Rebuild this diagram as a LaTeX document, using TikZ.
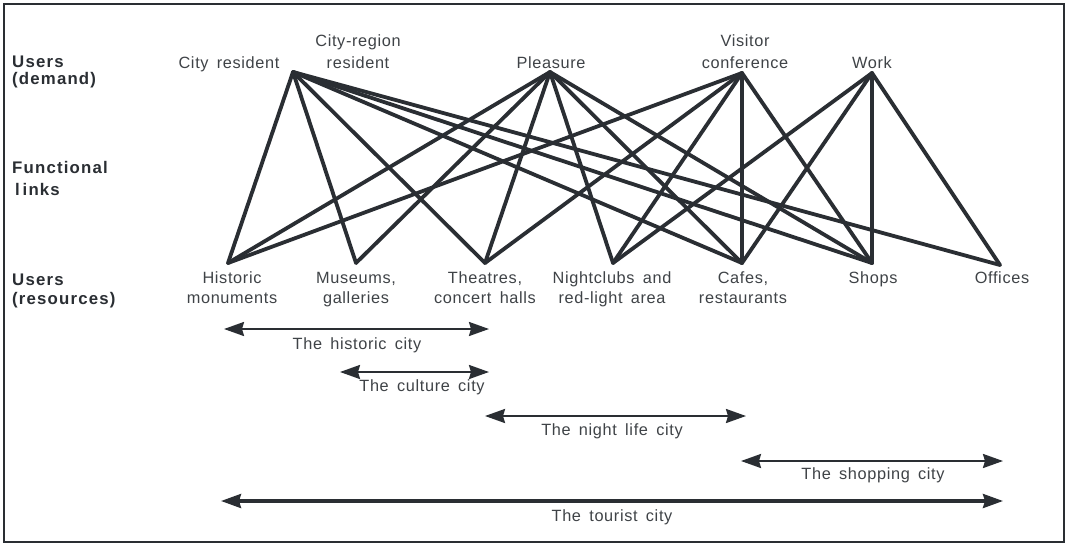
\documentclass[tikz,border=0pt]{standalone}
\usepackage{fontspec}
\setmainfont{Liberation Sans}[LetterSpace=4,WordSpace=1.6]
\newfontfamily\lblfont{Liberation Sans}[LetterSpace=7,WordSpace=1.4]
\usetikzlibrary{arrows.meta}
\definecolor{ink}{HTML}{2A2E33}
\begin{document}
\begin{tikzpicture}[x=1pt,y=-1pt,
  link/.style={draw=ink,line width=3.8pt,line cap=round,line join=round},
  txt/.style={anchor=base,inner sep=0pt,font=\fontsize{16.3}{19}\selectfont,text=ink!90},
  side/.style={anchor=base west,inner sep=0pt,font=\lblfont\bfseries\fontsize{16.8}{19}\selectfont,text=ink},
  cityrange/.style={draw=ink,line width=2.2pt,{Stealth[length=20pt,width=14pt,inset=2pt]}-{Stealth[length=20pt,width=14pt,inset=2pt]}},
  bigcityrange/.style={cityrange,line width=3.2pt},
]
\useasboundingbox (0,0) rectangle (1070,546);
\fill[white] (0,0) rectangle (1070,546);
\draw[ink,line width=2.8pt] (4,4) rectangle (1064,542);

% side labels
\node[side] (u1) at (12,67) {Users};
\node[side] (u2) at (12,84) {(demand)};
\node[side] (f1) at (12,173) {Functional};
\node[side] (f2) at (15,195) {l\,inks};
\node[side] (r1) at (12,285) {Users};
\node[side] (r2) at (12,304) {(resources)};

% demand labels
\node[txt] (tcr) at (229,68) {City resident};
\node[txt] (tcra) at (358,46) {City-region};
\node[txt] (tcrb) at (358,68) {resident};
\node[txt] (tpl) at (551,68) {Pleasure};
\node[txt] (tvca) at (745,46) {Visitor};
\node[txt] (tvcb) at (745,68) {conference};
\node[txt] (twk) at (872,68) {Work};

% resource labels
\node[txt] (thma) at (232,283) {Historic};
\node[txt] (thmb) at (232,303) {monuments};
\node[txt] (tmua) at (356,283) {Museums,};
\node[txt] (tmub) at (356,303) {galleries};
\node[txt] (ttha) at (485,283) {Theatres,};
\node[txt] (tthb) at (485,303) {concert halls};
\node[txt] (tnca) at (612,283) {Nightclubs and};
\node[txt] (tncb) at (612,303) {red-light area};
\node[txt] (tcfa) at (743,283) {Cafes,};
\node[txt] (tcfb) at (743,303) {restaurants};
\node[txt] (tsh) at (873,283) {Shops};
\node[txt] (tof) at (1002,283) {Offices};

% link end points
\coordinate (cr) at (293,72);
\coordinate (pl) at (550,72);
\coordinate (vc) at (742,73);
\coordinate (wk) at (872,73);
\coordinate (hm) at (228,263);
\coordinate (mu) at (356,263);
\coordinate (th) at (485,263);
\coordinate (nc) at (613,263);
\coordinate (cf) at (742,263);
\coordinate (sh) at (872,263);
\coordinate (of) at (1000,265);

\foreach \a/\b in {cr/hm,cr/mu,cr/th,cr/cf,cr/sh,cr/of,
                   pl/hm,pl/mu,pl/th,pl/nc,pl/cf,pl/sh,
                   vc/hm,vc/th,vc/nc,vc/cf,vc/sh,
                   wk/nc,wk/cf,wk/sh,wk/of}
  \draw[link] (\a) -- (\b);

% city ranges
\coordinate (h1) at (224,329); \coordinate (h2) at (489,329);
\coordinate (c1) at (340,372); \coordinate (c2) at (489,372);
\coordinate (n1) at (485,416); \coordinate (n2) at (746,416);
\coordinate (s1) at (741,461); \coordinate (s2) at (1003,461);
\coordinate (t1) at (221,501); \coordinate (t2) at (1003,501);
\draw[cityrange] (h1) -- (h2);
\draw[cityrange] (c1) -- (c2);
\draw[cityrange] (n1) -- (n2);
\draw[cityrange] (s1) -- (s2);
\draw[bigcityrange] (t1) -- (t2);

\node[txt] (lh) at (357,349) {The historic city};
\node[txt] (lc) at (422,391) {The culture city};
\node[txt] (ln) at (612,435) {The night life city};
\node[txt] (ls) at (873,479) {The shopping city};
\node[txt] (lt) at (612,521) {The tourist city};
\end{tikzpicture}
\end{document}
